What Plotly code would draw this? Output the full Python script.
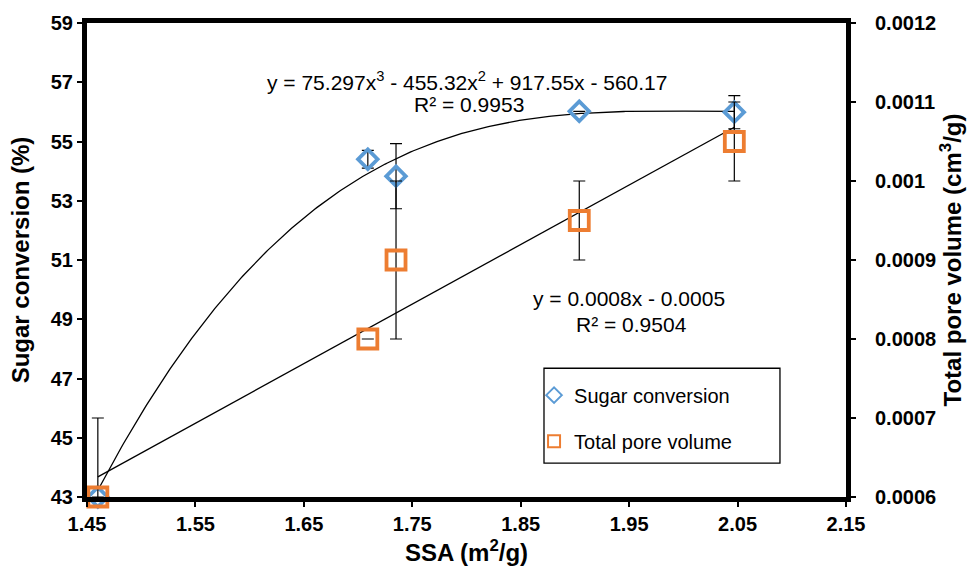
import numpy as np
import plotly.graph_objects as go

# ---- data ----
ssa = [1.460, 1.709, 1.735, 1.904, 2.047]
sugar_conversion = [43.0, 54.40, 53.83, 56.02, 55.99]
sugar_err = [0.0, 0.3, 1.1, 0.0, 0.56]
pore_volume = [0.00060, 0.00080, 0.00090, 0.00095, 0.00105]
pore_err = [0.00010, 0.0, 0.00010, 0.00005, 0.00005]

cubic_coef = [75.297, -455.32, 917.55, -560.17]   # from the chart's trendline label
eq_cubic = "y = 75.297x<sup>3</sup> - 455.32x<sup>2</sup> + 917.55x - 560.17"
r2_cubic = "R² = 0.9953"
eq_lin = "y = 0.0008x - 0.0005"
r2_lin = "R² = 0.9504"

y_left_ticks = [43, 45, 47, 49, 51, 53, 55, 57, 59]
y_right_ticks = [0.0006, 0.0007, 0.0008, 0.0009, 0.0010, 0.0011, 0.0012]
y_right_labels = ["0.0006", "0.0007", "0.0008", "0.0009", "0.001", "0.0011", "0.0012"]
x_ticks = [1.45, 1.55, 1.65, 1.75, 1.85, 1.95, 2.05, 2.15]

BLUE = "#5B9BD5"
ORANGE = "#ED7D31"
FONT = "Liberation Sans, Arial, sans-serif"

# trend lines computed from data / stated equation
xs = np.linspace(ssa[0], ssa[-1], 300)
cubic_y = np.polyval(cubic_coef, xs)
lin_fit = np.polyfit(ssa, pore_volume, 1)
xl = np.array([ssa[0], ssa[-1]])
lin_y = np.polyval(lin_fit, xl)

fig = go.Figure()

fig.add_trace(go.Scatter(x=xs, y=cubic_y, mode="lines", line=dict(color="black", width=1.3),
                         showlegend=False, hoverinfo="skip", yaxis="y"))
fig.add_trace(go.Scatter(x=xl, y=lin_y, mode="lines", line=dict(color="black", width=1.3),
                         showlegend=False, hoverinfo="skip", yaxis="y2"))

fig.add_trace(go.Scatter(
    x=ssa, y=sugar_conversion, mode="markers", name="Sugar conversion", yaxis="y",
    legendgroup="a", cliponaxis=False,
    marker=dict(symbol="diamond-open", size=15, color=BLUE, line=dict(width=3.8, color=BLUE)),
    error_y=dict(type="data", array=sugar_err, visible=True, color="black", thickness=1.2, width=6),
))
fig.add_trace(go.Scatter(
    x=ssa, y=pore_volume, mode="markers", name="Total pore volume", yaxis="y2",
    legendgroup="b", cliponaxis=False,
    marker=dict(symbol="square-open", size=19, color=ORANGE, line=dict(width=3.8, color=ORANGE)),
    error_y=dict(type="data", array=pore_err, visible=True, color="black", thickness=1.2, width=6),
))

tickfont = dict(family=FONT, size=20, color="black")
titlefont = dict(family=FONT, size=24, color="black")


def bold(labels):
    return [f"<b>{t}</b>" for t in labels]


fig.update_layout(
    width=970, height=574,
    margin=dict(l=87, r=124, t=23, b=77, autoexpand=False),
    paper_bgcolor="white", plot_bgcolor="white",
    font=dict(family=FONT, color="black"),
    xaxis=dict(
        range=[1.45, 2.15], tickvals=x_ticks, ticktext=bold([f"{v:.2f}" for v in x_ticks]),
        showline=True, linewidth=5, linecolor="black", mirror=True,
        ticks="outside", ticklen=5, tickwidth=1.5, tickcolor="black",
        showgrid=False, zeroline=False, automargin=False,
        tickfont=tickfont,
        title=dict(text="<b>SSA (m<sup>2</sup>/g)</b>", font=titlefont, standoff=12),
    ),
    yaxis=dict(
        range=[43, 59], tickvals=y_left_ticks, ticktext=bold([str(v) for v in y_left_ticks]),
        showline=True, linewidth=5, linecolor="black",
        ticks="outside", ticklen=5, tickwidth=1.5, tickcolor="black",
        showgrid=False, zeroline=False, automargin=False,
        tickfont=tickfont, ticklabelstandoff=0,
        title=dict(text="<b>Sugar conversion (%)</b>", font=titlefont, standoff=16),
    ),
    yaxis2=dict(
        range=[0.0006, 0.0012], tickvals=y_right_ticks, ticktext=bold(y_right_labels),
        overlaying="y", side="right",
        showline=True, linewidth=5, linecolor="black",
        ticks="outside", ticklen=5, tickwidth=1.5, tickcolor="black",
        showgrid=False, zeroline=False, automargin=False,
        tickfont=tickfont, ticklabelstandoff=15,
        title=dict(text="<b>Total pore volume (cm<sup>3</sup>/g)</b>", font=titlefont, standoff=9),
    ),
    legend=dict(
        x=0.589, y=0.256, xanchor="left", yanchor="top",
        bgcolor="rgba(0,0,0,0)", borderwidth=0,
        font=dict(family=FONT, size=20, color="black"),
        traceorder="grouped", tracegroupgap=17, itemsizing="constant",
    ),
    shapes=[dict(type="rect", xref="paper", yref="paper",
                 x0=0.6021, x1=0.913, y0=0.0716, y1=0.2716,
                 line=dict(color="black", width=1.3), fillcolor="rgba(0,0,0,0)", layer="below")],
    annotations=[
        dict(text=eq_cubic, x=0.5007, y=0.878, xref="paper", yref="paper", showarrow=False,
             xanchor="center", yanchor="middle", font=dict(family=FONT, size=21, color="black")),
        dict(text=r2_cubic, x=0.503, y=0.829, xref="paper", yref="paper", showarrow=False,
             xanchor="center", yanchor="middle", font=dict(family=FONT, size=21, color="black")),
        dict(text=eq_lin, x=0.714, y=0.419, xref="paper", yref="paper", showarrow=False,
             xanchor="center", yanchor="middle", font=dict(family=FONT, size=21, color="black")),
        dict(text=r2_lin, x=0.717, y=0.364, xref="paper", yref="paper", showarrow=False,
             xanchor="center", yanchor="middle", font=dict(family=FONT, size=21, color="black")),
    ],
)

fig.write_html("out.html")
